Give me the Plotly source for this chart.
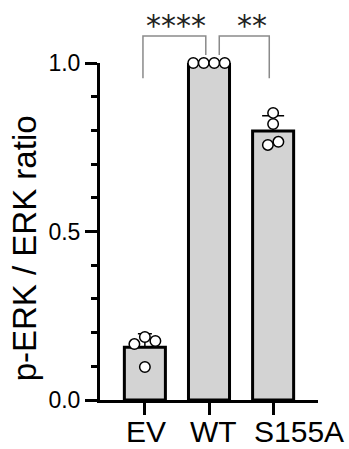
import plotly.graph_objects as go
import numpy as np

categories = ["EV", "WT", "S155A"]
ev_values = [0.166, 0.187, 0.175, 0.098]
wt_values = [1.0, 1.0, 1.0, 1.0]
s155a_values = [0.852, 0.819, 0.757, 0.766]
y_tickvals = [0.0, 0.5, 1.0]
y_ticktext = ["0.0", "0.5", "1.0"]
minor_tickvals = [0.1, 0.2, 0.3, 0.4, 0.6, 0.7, 0.8, 0.9]
comparisons = [("EV", "WT", "****"), ("WT", "S155A", "**")]
y_title = "p-ERK / ERK ratio"

groups = [ev_values, wt_values, s155a_values]
means = [float(np.mean(g)) for g in groups]
sds = [float(np.std(g, ddof=1)) for g in groups]

W, H = 349, 449
ML, MR, MT, MB = 100, 31, 63, 49
XR = [-0.7, 2.7]
YR = [0.0, 1.0]
plot_w = W - ML - MR
plot_h = H - MT - MB
px_per_cat = plot_w / (XR[1] - XR[0])
px_per_val = plot_h / (YR[1] - YR[0])
FONT = "Liberation Sans, Arial, sans-serif"
MARKER_D = 10.5
BAR_W = 0.64


def row_offsets(vals):
    """Group points closer vertically than one marker diameter into rows and
    centre each row horizontally (Prism-like scatter)."""
    n = len(vals)
    order = sorted(range(n), key=lambda i: -vals[i])
    rows = []
    for i in order:
        for r in rows:
            if all(abs(vals[i] - vals[j]) * px_per_val < MARKER_D for j in r):
                r.append(i)
                break
        else:
            rows.append([i])
    offs = [0.0] * n
    for r in rows:
        r_sorted = sorted(r)
        k = len(r_sorted)
        for pos, i in enumerate(r_sorted):
            offs[i] = (pos - (k - 1) / 2) * MARKER_D / px_per_cat
    return offs


fig = go.Figure()

fig.add_trace(go.Bar(
    x=list(range(len(categories))), y=means, width=BAR_W,
    marker=dict(color="#d3d3d3", line=dict(color="black", width=3)),
    hoverinfo="skip", showlegend=False, cliponaxis=False,
))

# error bars (mean + SD only)
cap_half_widths = [7, 7, 11]
for ci in range(len(categories)):
    fig.add_trace(go.Scatter(
        x=[ci], y=[means[ci]], mode="markers",
        marker=dict(size=1, color="rgba(0,0,0,0)"),
        error_y=dict(type="data", array=[sds[ci]], arrayminus=[0],
                     symmetric=False, color="black", thickness=1.5,
                     width=cap_half_widths[ci]),
        showlegend=False, hoverinfo="skip", cliponaxis=False,
    ))

for ci, vals in enumerate(groups):
    offs = row_offsets(vals)
    fig.add_trace(go.Scatter(
        x=[ci + o for o in offs], y=vals, mode="markers",
        marker=dict(size=MARKER_D, color="white", line=dict(color="black", width=1.5)),
        showlegend=False, hoverinfo="skip", cliponaxis=False,
    ))


def xp(x):
    return (x - XR[0]) / (XR[1] - XR[0])


def yp(v):
    return (v - YR[0]) / (YR[1] - YR[0])


# significance brackets
br_top, long_leg, short_leg = 1.08, 0.955, 1.024
bracket_x = [(-0.03, 0.95, long_leg, short_leg), (1.16, 1.94, short_leg, long_leg)]
star_x = [0.49, 1.67]
shapes = []
annotations = []
for (x0, x1, l0, l1), sx, (_, _, stars) in zip(bracket_x, star_x, comparisons):
    path = (f"M {xp(x0)} {yp(l0)} L {xp(x0)} {yp(br_top)} "
            f"L {xp(x1)} {yp(br_top)} L {xp(x1)} {yp(l1)}")
    shapes.append(dict(type="path", path=path, xref="paper", yref="paper",
                       line=dict(color="#8a8a8a", width=1.5)))
    annotations.append(dict(text=stars, x=xp(sx), y=yp(1.11), xref="paper", yref="paper",
                            showarrow=False, xanchor="center", yanchor="middle",
                            font=dict(family="DejaVu Sans", size=30, color="#222222")))

# y-axis title
annotations.append(dict(text=y_title, textangle=-90, x=(24 - ML) / plot_w,
                        y=0.45, xref="paper", yref="paper", showarrow=False,
                        xanchor="center", yanchor="middle",
                        font=dict(family=FONT, size=33, color="black")))

# category labels (left-aligned at bar edges, as in the reference)
for ci, cat in enumerate(categories):
    annotations.append(dict(text=cat, x=xp(ci - 0.33), y=-(13 / plot_h), xref="paper",
                            yref="paper", showarrow=False, xanchor="left", yanchor="top",
                            font=dict(family=FONT, size=30, color="black")))

fig.update_layout(
    width=W, height=H,
    margin=dict(l=ML, r=MR, t=MT, b=MB, pad=0, autoexpand=False),
    plot_bgcolor="white", paper_bgcolor="white",
    shapes=shapes, annotations=annotations,
    bargap=0,
)
fig.update_xaxes(
    range=XR, tickvals=list(range(len(categories))), ticktext=["" for _ in categories],
    showline=True, linecolor="black", linewidth=3,
    ticks="outside", ticklen=12, tickwidth=3, tickcolor="black",
    showgrid=False, zeroline=False,
)
fig.update_yaxes(
    range=YR, tickvals=y_tickvals, ticktext=y_ticktext,
    showline=True, linecolor="black", linewidth=3,
    ticks="outside", ticklen=12, tickwidth=3, tickcolor="black",
    tickfont=dict(family=FONT, size=23, color="black"),
    minor=dict(tickvals=minor_tickvals, ticks="outside", ticklen=6, tickwidth=3,
               tickcolor="black"),
    showgrid=False, zeroline=False,
)

fig.write_html("out.html",
               config={"displayModeBar": False, "staticPlot": True},
               post_script="document.body.style.margin='0';document.body.style.overflow='hidden';")
